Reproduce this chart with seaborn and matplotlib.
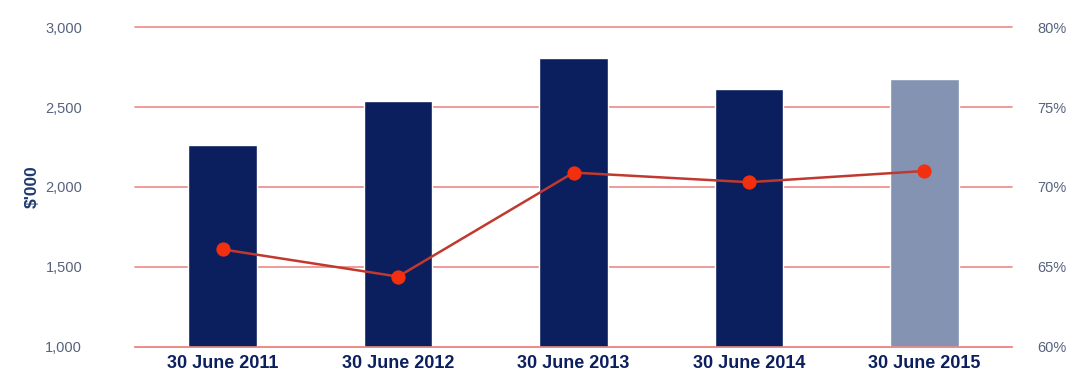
import matplotlib
matplotlib.use("Agg")
import matplotlib.pyplot as plt
import seaborn as sns
import pandas as pd
from matplotlib.ticker import FuncFormatter

categories = ["30 June 2011", "30 June 2012", "30 June 2013", "30 June 2014", "30 June 2015"]
values_k = [2262, 2537, 2806, 2612, 2675]
ratio_pct = [66.1, 64.4, 70.9, 70.3, 71.0]
bar_colors = ["#0b1f5e", "#0b1f5e", "#0b1f5e", "#0b1f5e", "#8593b2"]
left_ticks = [1000, 1500, 2000, 2500, 3000]
right_ticks = [60, 65, 70, 75, 80]

sns.set_theme(style="white")
plt.rcParams['font.family'] = ['Liberation Sans', 'DejaVu Sans']

df = pd.DataFrame({"cat": categories, "val": values_k, "pct": ratio_pct})

fig = plt.figure(figsize=(10.85, 3.88), dpi=100)
ax = fig.add_axes([0.1244, 0.1057, 0.8084, 0.8247])

grid_col = "#ec8a86"
tick_col = "#56627e"
navy = "#0b1f5e"

sns.barplot(data=df, x="cat", y="val", hue="cat", palette=bar_colors, legend=False,
            width=0.39, saturation=1, ax=ax, zorder=2)
ax.set_xlim(-0.5, 4.5)
ax.set_ylim(1000, 3000)
ax.set_yticks(left_ticks)
ax.yaxis.set_major_formatter(FuncFormatter(lambda v, p: f"{int(v):,}"))
for s in ["top", "right", "left"]:
    ax.spines[s].set_visible(False)
ax.spines["bottom"].set_color(grid_col)
ax.spines["bottom"].set_linewidth(1.2)
ax.tick_params(axis="y", length=0, pad=38, labelsize=10.5, labelcolor=tick_col)
ax.tick_params(axis="x", length=0, pad=6)
for lbl in ax.get_xticklabels():
    lbl.set_fontweight("bold")
    lbl.set_fontsize(13)
    lbl.set_color(navy)
ax.set_xlabel("")
ax.set_ylabel("$'000", fontsize=12.5, fontweight="bold", color="#1e3a6e", labelpad=4)

ax2 = ax.twinx()
sns.lineplot(data=df, x="cat", y="pct", ax=ax2, color="#c0392e", linewidth=1.8,
             marker="o", markersize=9.5, markerfacecolor="#f2300f",
             markeredgecolor="#f2300f", zorder=5)
ax2.set_ylim(60, 80)
ax2.set_yticks(right_ticks)
ax2.yaxis.set_major_formatter(FuncFormatter(lambda v, p: f"{int(v)}%"))
ax2.tick_params(axis="y", length=0, pad=18, labelsize=10.5, labelcolor=tick_col)
ax2.set_ylabel("")
ax2.set_xlabel("")
ax2.grid(False)
for s in ax2.spines.values():
    s.set_visible(False)

ax.set_axisbelow(True)
ax.yaxis.grid(True, color=grid_col, linewidth=1.2, zorder=0)
ax.xaxis.grid(False)
for gl in ax.get_ygridlines():
    gl.set_color(grid_col)
    gl.set_clip_on(False)

fig.savefig("out.png", dpi=100)
